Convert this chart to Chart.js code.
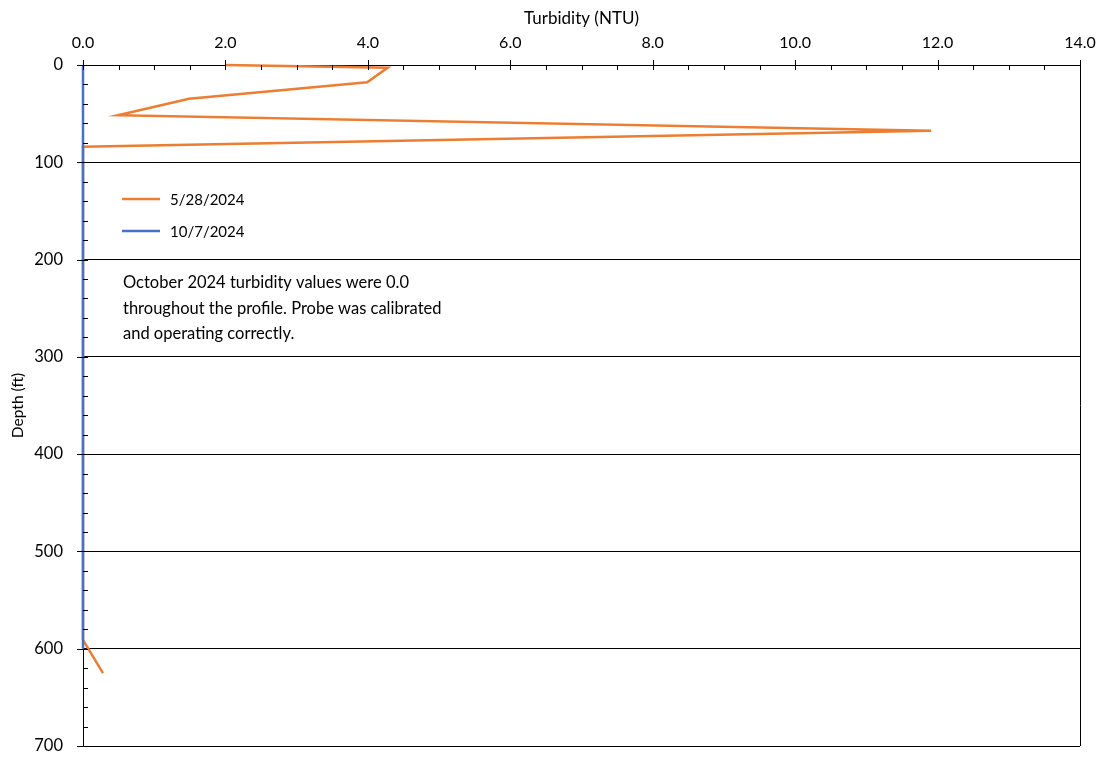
<!DOCTYPE html>
<html>
<head>
<meta charset="utf-8">
<script src="https://cdn.jsdelivr.net/npm/chart.js@4.4.1/dist/chart.umd.min.js"></script>
<style>
  body { margin: 0; background: #fff; }
  canvas { display: block; }
</style>
</head>
<body>
<canvas id="turbChart" width="1110" height="757"></canvas>
<script>
// May survey
var mayDepth = [0, 2.7, 17.8, 34.6, 51.7, 67.5, 84, 591, 625];
var mayTurb = [2.0, 4.28, 3.99, 1.49, 0.49, 11.91, 0.0, 0.0, 0.28];
// October survey - all zero
var octDepth = [0, 100, 200, 300, 400, 500, 600];
var octTurb = [0.0, 0.0, 0.0, 0.0, 0.0, 0.0, 0.0];

var seriesLabels = ['5/28/2024', '10/7/2024'];
var noteLines = [
    'October 2024 turbidity values were 0.0',
    'throughout the profile. Probe was calibrated',
    'and operating correctly.'
];

var FONT = 'Lato, "Open Sans", sans-serif';

function toPoints(xs, ys) {
    return xs.map(function (x, i) { return { x: x, y: ys[i] }; });
}

// ticks, right border, legend and note
var extras = {
    id: 'extras',
    afterDraw: function (chart) {
        var c = chart.ctx;
        var xs = chart.scales.x, ys = chart.scales.y;
        var area = chart.chartArea;
        c.save();
        c.strokeStyle = '#000';
        c.lineWidth = 1;
        c.beginPath();
        // top axis ticks
        for (var v = 0; v <= 14.001; v += 0.5) {
            var px = Math.round(xs.getPixelForValue(v)) + 0.5;
            var major = Math.abs(v / 2 - Math.round(v / 2)) < 1e-6;
            c.moveTo(px, area.top - (major ? 5 : 0));
            c.lineTo(px, area.top + 5);
        }
        // left axis ticks
        for (var d = 0; d <= 700; d += 20) {
            var py = Math.round(ys.getPixelForValue(d)) + 0.5;
            var maj = d % 100 === 0;
            c.moveTo(area.left - (maj ? 6 : 0), py);
            c.lineTo(area.left + 5, py);
        }
        // right border
        var rx = Math.round(xs.getPixelForValue(14)) + 0.5;
        c.moveTo(rx, area.top);
        c.lineTo(rx, area.bottom);
        c.stroke();

        // legend
        c.font = '15px ' + FONT;
        c.textBaseline = 'middle';
        c.fillStyle = '#000';
        var ly = [199, 231];
        chart.data.datasets.forEach(function (ds, i) {
            c.strokeStyle = ds.borderColor;
            c.lineWidth = 2.5;
            c.beginPath();
            c.moveTo(122, ly[i]);
            c.lineTo(160, ly[i]);
            c.stroke();
            c.fillText(ds.label, 170, ly[i] + 1);
        });

        // note
        c.font = '16.5px ' + FONT;
        noteLines.forEach(function (t, i) {
            c.fillText(t, 123, 283 + i * 25.5);
        });
        c.restore();
    }
};

var ctx = document.getElementById('turbChart');
var myChart = new Chart(ctx, {
    type: 'line',
    data: {
        datasets: [{
            label: seriesLabels[0],
            data: toPoints(mayTurb, mayDepth),
            borderColor: '#ED7D31',
            borderWidth: 2.5,
            pointRadius: 0,
            order: 1,
            clip: false
        }, {
            label: seriesLabels[1],
            data: toPoints(octTurb, octDepth),
            borderColor: '#4472C4',
            borderWidth: 2.5,
            pointRadius: 0,
            order: 0,
            clip: false
        }]
    },
    options: {
        responsive: false,
        animation: false,
        layout: { padding: { left: 0, right: 30, top: 0, bottom: 11 } },
        plugins: {
            legend: { display: false },
            tooltip: { enabled: false }
        },
        scales: {
            x: {
                type: 'linear',
                position: 'top',
                min: 0,
                max: 14,
                afterFit: function (s) {
                    s.height = 65;
                    s.paddingLeft = 0; s.paddingRight = 0;
                },
                ticks: {
                    stepSize: 2,
                    padding: 13,
                    color: '#000',
                    font: { family: FONT, size: 16 },
                    callback: function (v) { return v.toFixed(1); }
                },
                grid: { drawOnChartArea: false, drawTicks: false },
                border: { display: true, color: '#000', width: 1 },
                title: {
                    display: true,
                    text: 'Turbidity (NTU)',
                    color: '#000',
                    font: { family: FONT, size: 17 },
                    padding: { top: 8, bottom: 0 }
                }
            },
            y: {
                type: 'linear',
                reverse: true,
                min: 0,
                max: 700,
                afterFit: function (s) {
                    s.width = 83;
                    s.paddingTop = 0; s.paddingBottom = 0;
                },
                ticks: {
                    stepSize: 100,
                    padding: 20,
                    color: '#000',
                    font: { family: FONT, size: 16.5 }
                },
                grid: { color: '#000', lineWidth: 1, drawTicks: false },
                border: { display: true, color: '#000' },
                title: {
                    display: true,
                    text: 'Depth (ft)',
                    color: '#000',
                    font: { family: FONT, size: 15.5 },
                    padding: { top: 9, bottom: 0 }
                }
            }
        }
    },
    plugins: [extras]
});
</script>
</body>
</html>
